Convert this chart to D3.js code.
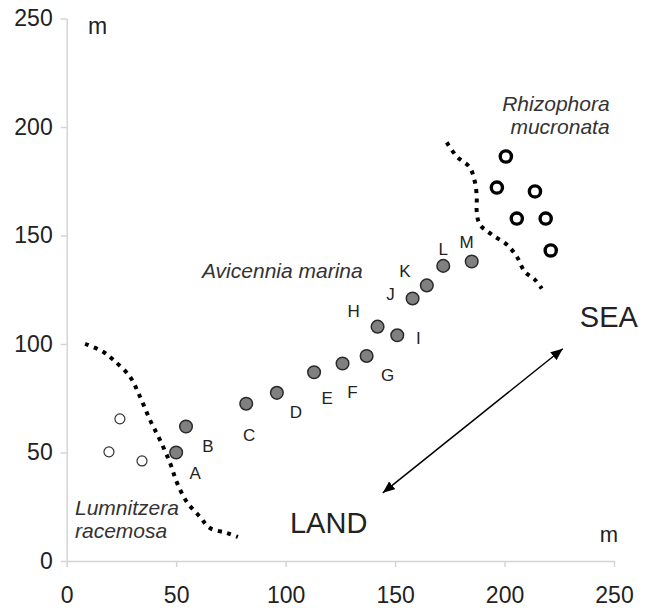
<!DOCTYPE html>
<html>
<head>
<meta charset="utf-8">
<script src="https://cdn.jsdelivr.net/npm/d3@7"></script>
<style>
  body { margin: 0; background: #fff; }
  svg { display: block; font-family: "Liberation Sans", Arial, sans-serif; }
  .axis path, .axis line { stroke: #d4d4d4; stroke-width: 1.5; }
  .axis text { fill: #222; font-size: 23px; font-family: "Liberation Sans", Arial, sans-serif; }
</style>
</head>
<body>
<div id="chart"></div>
<script>
// tick values
const xTicks = [0, 50, 100, 150, 200, 250];
const yTicks = [0, 50, 100, 150, 200, 250];

// Lumnitzera racemosa (open circles)
const lumX = [19.3, 24.3, 34.4];
const lumY = [50.3, 65.5, 46.1];

// Avicennia marina (grey circles A..M)
const aviIds = ["A", "B", "C", "D", "E", "F", "G", "H", "I", "J", "K", "L", "M"];
const aviX = [50, 54.5, 82, 96, 113, 126, 137, 142, 151, 158, 164.5, 172, 185];
const aviY = [50, 62, 72.5, 77.5, 87, 91, 94.5, 108, 104, 121, 127, 136, 138];

// Rhizophora mucronata (thick black rings)
const rhiX = [200.6, 196.5, 213.9, 205.6, 218.8, 221.1];
const rhiY = [186.4, 172.1, 170.3, 157.8, 157.8, 143.1];

// dotted zone boundaries
const lumBoundX = [8.4, 16.6, 21.2, 28.9, 33.5, 38.0, 42.6, 47.2, 50.4, 54.9, 60.9, 65.4, 73.2, 78.2];
const lumBoundY = [100.1, 96.4, 92.8, 84.9, 75.7, 65.1, 55.8, 45.2, 36.0, 27.2, 20.3, 15.2, 12.9, 11.1];
const rhiBoundX = [173.6, 178.2, 184.1, 186.4, 187.3, 187.3, 188.7, 194.2, 201.0, 205.6, 209.2, 213.8, 217.0];
const rhiBoundY = [192.9, 186.4, 181.4, 174.9, 168.0, 161.1, 155.1, 150.4, 145.8, 140.3, 133.4, 129.7, 125.5];

// land <-> sea arrow
const arrowX = [144.4, 226.6];
const arrowY = [31.4, 97.8];

// label offsets (px) for A..M
const labelDx = [19, 22, 3, 19, 13, 10, 21, -24, 21, -22, -22, 0, -5];
const labelDy = [20, 19, 31, 19, 26, 28, 19, -16, 3, -5, -15, -17, -20];

const width = 647, height = 608;
const margin = { top: 18.5, right: 33, bottom: 47, left: 66.7 };

const svg = d3.select("#chart").append("svg")
  .attr("width", width)
  .attr("height", height);

const x = d3.scaleLinear().domain([0, 250]).range([margin.left, width - margin.right]);
const y = d3.scaleLinear().domain([0, 250]).range([height - margin.bottom, margin.top]);

// axes
svg.append("g")
  .attr("class", "axis")
  .attr("transform", `translate(0,${height - margin.bottom})`)
  .call(d3.axisBottom(x).tickValues(xTicks).tickSize(6).tickSizeOuter(0).tickPadding(20))
  .call(g => g.selectAll("text").attr("dy", "0.71em"));

svg.append("g")
  .attr("class", "axis")
  .attr("transform", `translate(${margin.left},0)`)
  .call(d3.axisLeft(y).tickValues(yTicks).tickSize(6).tickSizeOuter(0).tickPadding(8));

// dotted boundaries
const line = d3.line().x(d => x(d[0])).y(d => y(d[1])).curve(d3.curveCatmullRom);
[[lumBoundX, lumBoundY], [rhiBoundX, rhiBoundY]].forEach(([bx, by]) => {
  svg.append("path")
    .datum(bx.map((v, i) => [v, by[i]]))
    .attr("d", line)
    .attr("fill", "none")
    .attr("stroke", "#000")
    .attr("stroke-width", 4)
    .attr("stroke-dasharray", "4 5.5");
});

// arrow
const defs = svg.append("defs");
["start", "end"].forEach(k => {
  defs.append("marker")
    .attr("id", "arr-" + k)
    .attr("viewBox", "0 0 12 10")
    .attr("refX", k === "end" ? 12 : 0)
    .attr("refY", 5)
    .attr("markerWidth", 12)
    .attr("markerHeight", 10)
    .attr("markerUnits", "userSpaceOnUse")
    .attr("orient", "auto")
    .append("path")
    .attr("d", k === "end" ? "M0,0L12,5L0,10Z" : "M12,0L0,5L12,10Z")
    .attr("fill", "#000");
});
svg.append("line")
  .attr("x1", x(arrowX[0])).attr("y1", y(arrowY[0]))
  .attr("x2", x(arrowX[1])).attr("y2", y(arrowY[1]))
  .attr("stroke", "#000")
  .attr("stroke-width", 1.5)
  .attr("marker-start", "url(#arr-start)")
  .attr("marker-end", "url(#arr-end)");

// Lumnitzera points
svg.selectAll(".lum")
  .data(lumX.map((v, i) => ({ x: v, y: lumY[i] })))
  .enter().append("circle")
  .attr("cx", d => x(d.x)).attr("cy", d => y(d.y))
  .attr("r", 5)
  .attr("fill", "#fff")
  .attr("stroke", "#333")
  .attr("stroke-width", 1.2);

// Avicennia points + labels
const avi = aviIds.map((id, i) => ({ id, x: aviX[i], y: aviY[i], dx: labelDx[i], dy: labelDy[i] }));
svg.selectAll(".avi")
  .data(avi)
  .enter().append("circle")
  .attr("cx", d => x(d.x)).attr("cy", d => y(d.y))
  .attr("r", 6.3)
  .attr("fill", "#808080")
  .attr("stroke", "#2a2a2a")
  .attr("stroke-width", 1.5);

svg.selectAll(".avi-label")
  .data(avi)
  .enter().append("text")
  .attr("x", d => x(d.x) + d.dx)
  .attr("y", d => y(d.y) + d.dy)
  .attr("dy", "0.36em")
  .attr("text-anchor", "middle")
  .attr("font-size", 17)
  .attr("fill", "#222")
  .text(d => d.id);

// Rhizophora points
svg.selectAll(".rhi")
  .data(rhiX.map((v, i) => ({ x: v, y: rhiY[i] })))
  .enter().append("circle")
  .attr("cx", d => x(d.x)).attr("cy", d => y(d.y))
  .attr("r", 5.6)
  .attr("fill", "#fff")
  .attr("stroke", "#000")
  .attr("stroke-width", 3.4);

// text annotations
function note(tx, ty, str, opts = {}) {
  svg.append("text")
    .attr("x", x(tx)).attr("y", y(ty))
    .attr("font-size", opts.size || 21)
    .attr("font-style", opts.italic ? "italic" : "normal")
    .attr("text-anchor", opts.anchor || "start")
    .attr("fill", opts.fill || "#222")
    .text(str);
}
note(9.7, 242.7, "m", { size: 23 });
note(243.5, 8.8, "m", { size: 22 });
note(102, 12.9, "LAND", { size: 29 });
note(234.4, 108, "SEA", { size: 29 });
note(61.8, 130.6, "Avicennia marina", { italic: true, fill: "#333" });
note(248, 207.2, "Rhizophora", { italic: true, anchor: "end", fill: "#333" });
note(248, 196.6, "mucronata", { italic: true, anchor: "end", fill: "#333" });
note(3.8, 21.2, "Lumnitzera", { italic: true, fill: "#333" });
note(3.8, 10.6, "racemosa", { italic: true, fill: "#333" });
</script>
</body>
</html>
